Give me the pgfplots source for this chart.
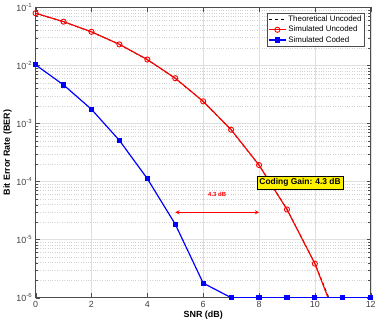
\documentclass[border=0pt]{standalone}
\usepackage{fontspec}
\setmainfont{Liberation Sans}
\usepackage{pgfplots}
\pgfplotsset{compat=1.18}

\begin{document}
\begin{tikzpicture}
\begin{axis}[
  scale only axis,
  width=337bp, height=292bp,
  ymode=log,
  xmin=0, xmax=12, ymin=1e-6, ymax=1e-1,
  xtick={0,2,...,12},
  ytick={1e-6,1e-5,1e-4,1e-3,1e-2,1e-1},
  yticklabels={10\textsuperscript{-6},10\textsuperscript{-5},10\textsuperscript{-4},10\textsuperscript{-3},10\textsuperscript{-2},10\textsuperscript{-1}},
  /pgf/number format/assume math mode=true,
  tick label style={font=\fontsize{9}{10}\selectfont, text=black!75},
  xlabel={\bfseries SNR (dB)},
  ylabel={\bfseries Bit Error Rate (BER)},
  label style={font=\fontsize{9}{11}\selectfont},
  xlabel style={yshift=3bp},
  ylabel style={yshift=-2bp},
  grid=both,
  major grid style={gray!25, line width=0.4pt},
  minor grid style={gray!35, dotted, line width=0.4pt},
  minor x tick num=0,
  axis line style={black!70, line width=0.5pt},
  tick style={black!70},
  tick align=inside,
  legend style={at={(0.982,0.981)}, anchor=north east, font=\fontsize{8}{9.5}\selectfont,
    draw=black!70, inner sep=1pt, row sep=-1pt, cells={anchor=west}},
  legend cell align=left,
]
% theoretical BPSK uncoded (hidden under the simulated curve)
\addplot[black, dashed, line width=0.8pt, mark=none] coordinates {
  (0,0.0786) (1,0.0563) (2,0.0375) (3,0.0229) (4,0.0125) (5,0.00595)
  (6,0.00239) (7,0.000773) (8,0.000191) (9,3.36e-5) (10,3.87e-6) (11,2.6e-7)};
\addplot[red, line width=1.2pt, mark=o, mark size=2.6pt, mark indices={1,...,11},
  mark options={solid, line width=0.9pt},
  legend image post style={mark indices={2}}] coordinates {
  (0,0.079) (1,0.0565) (2,0.0378) (3,0.0230) (4,0.0126) (5,0.0060)
  (6,0.0024) (7,0.00078) (8,0.000192) (9,3.3e-5) (10,3.85e-6) (11,2.2e-7)};
\addplot[blue, line width=1.2pt, mark=square*, mark size=2pt,
  mark options={solid}] coordinates {
  (0,0.0102) (1,0.0046) (2,0.00175) (3,0.00051) (4,0.000112) (5,1.84e-5)
  (6,1.78e-6) (7,1e-6) (8,1e-6) (9,1e-6) (10,1e-6) (11,1e-6) (12,1e-6)};
\legend{Theoretical Uncoded, Simulated Uncoded, Simulated Coded}
\draw[red, <->, >=stealth, line width=0.9pt] (axis cs:5,2.95e-5) -- (axis cs:8,2.95e-5);
\node[red, font=\fontsize{6}{7}\selectfont\bfseries] at (axis cs:6.5,6e-5) {4.3 dB};
\node[fill=yellow, draw=black, line width=0.5pt, inner sep=2.5pt,
  font=\fontsize{8.5}{10}\selectfont\bfseries] at (axis cs:9.47,9.5e-5) {Coding Gain: 4.3 dB};
\end{axis}
\end{tikzpicture}
\end{document}
